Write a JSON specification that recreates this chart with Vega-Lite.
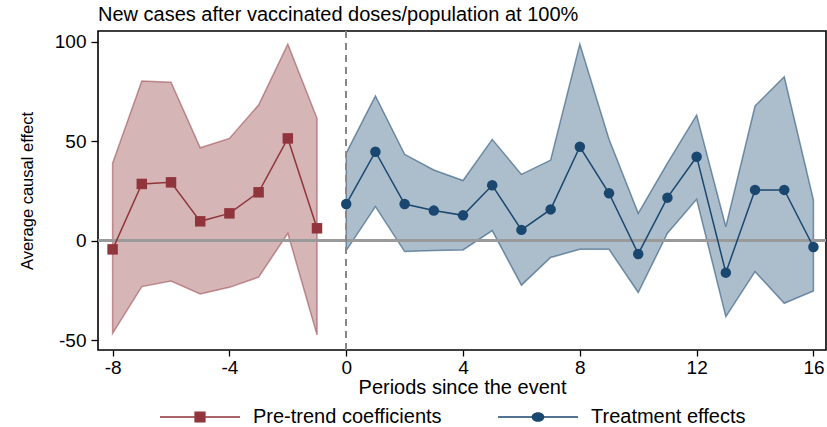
{
  "$schema": "https://vega.github.io/schema/vega-lite/v6.json",
  "width": 728,
  "height": 319,
  "autosize": {"type": "none"},
  "padding": {"left": 98, "top": 31, "right": 1, "bottom": 77},
  "background": "white",
  "config": {
    "font": "Liberation Sans",
    "view": {"stroke": "black", "strokeWidth": 1.6},
    "axis": {"grid": false, "domain": false, "tickColor": "black", "tickWidth": 1.3, "labelColor": "black", "titleColor": "black", "labelFont": "Liberation Sans", "titleFont": "Liberation Sans", "titleFontWeight": "normal"}
  },
  "title": {"text": "New cases after vaccinated doses/population at 100%", "anchor": "start", "frame": "group", "fontSize": 20, "fontWeight": "normal", "font": "Liberation Sans", "color": "black", "baseline": "bottom", "offset": 6, "dy": 21},
  "data": {"values": [
    {"t": -8, "coef": -4.4, "lo": -46.6, "hi": 38.9, "group": "Pre-trend coefficients"},
    {"t": -7, "coef": 28.5, "lo": -23.1, "hi": 80.2, "group": "Pre-trend coefficients"},
    {"t": -6, "coef": 29.3, "lo": -20.3, "hi": 79.6, "group": "Pre-trend coefficients"},
    {"t": -5, "coef": 9.7, "lo": -26.8, "hi": 46.7, "group": "Pre-trend coefficients"},
    {"t": -4, "coef": 13.7, "lo": -23.5, "hi": 51.4, "group": "Pre-trend coefficients"},
    {"t": -3, "coef": 24.3, "lo": -18.4, "hi": 68.2, "group": "Pre-trend coefficients"},
    {"t": -2, "coef": 51.4, "lo": 3.7, "hi": 98.8, "group": "Pre-trend coefficients"},
    {"t": -1, "coef": 6.2, "lo": -47.4, "hi": 61.5, "group": "Pre-trend coefficients"},
    {"t": 0, "coef": 18.4, "lo": -5.0, "hi": 44.0, "group": "Treatment effects"},
    {"t": 1, "coef": 44.7, "lo": 17.1, "hi": 72.7, "group": "Treatment effects"},
    {"t": 2, "coef": 18.4, "lo": -5.5, "hi": 43.4, "group": "Treatment effects"},
    {"t": 3, "coef": 15.1, "lo": -5.0, "hi": 35.5, "group": "Treatment effects"},
    {"t": 4, "coef": 12.7, "lo": -4.7, "hi": 30.2, "group": "Treatment effects"},
    {"t": 5, "coef": 27.8, "lo": 5.0, "hi": 50.9, "group": "Treatment effects"},
    {"t": 6, "coef": 5.4, "lo": -22.4, "hi": 33.3, "group": "Treatment effects"},
    {"t": 7, "coef": 15.7, "lo": -8.5, "hi": 40.5, "group": "Treatment effects"},
    {"t": 8, "coef": 47.2, "lo": -4.4, "hi": 98.8, "group": "Treatment effects"},
    {"t": 9, "coef": 23.8, "lo": -4.4, "hi": 51.0, "group": "Treatment effects"},
    {"t": 10, "coef": -6.7, "lo": -26.1, "hi": 13.7, "group": "Treatment effects"},
    {"t": 11, "coef": 21.6, "lo": 3.7, "hi": 39.0, "group": "Treatment effects"},
    {"t": 12, "coef": 42.2, "lo": 20.8, "hi": 63.1, "group": "Treatment effects"},
    {"t": 13, "coef": -16.1, "lo": -38.2, "hi": 7.0, "group": "Treatment effects"},
    {"t": 14, "coef": 25.5, "lo": -15.6, "hi": 67.7, "group": "Treatment effects"},
    {"t": 15, "coef": 25.5, "lo": -31.5, "hi": 82.4, "group": "Treatment effects"},
    {"t": 16, "coef": -3.2, "lo": -25.3, "hi": 20.4, "group": "Treatment effects"}
  ]},
  "encoding": {
    "x": {"field": "t", "type": "quantitative", "scale": {"domain": [-8.5, 16.43], "nice": false, "zero": false},
      "axis": {"values": [-8, -4, 0, 4, 8, 12, 16], "labelExpr": "toString(datum.value)", "title": "Periods since the event", "labelFontSize": 19, "titleFontSize": 20, "tickSize": 6, "labelPadding": 2, "titlePadding": 0}},
    "y": {"type": "quantitative", "scale": {"domain": [-55, 105.4], "nice": false, "zero": false},
      "axis": {"values": [-50, 0, 50, 100], "labelExpr": "toString(datum.value)", "title": "Average causal effect", "labelFontSize": 19, "titleFontSize": 16.5, "tickSize": 7, "labelPadding": 5, "titleX": -63, "titleBaseline": "bottom"}}
  },
  "layer": [
    {
      "transform": [{"filter": "datum.group === 'Pre-trend coefficients'"}],
      "mark": {"type": "area", "fill": "#90353b", "fillOpacity": 0.37, "stroke": "#90353b", "strokeOpacity": 0.5, "strokeWidth": 1.5},
      "encoding": {"y": {"field": "hi", "type": "quantitative"}, "y2": {"field": "lo"}}
    },
    {
      "transform": [{"filter": "datum.group === 'Treatment effects'"}],
      "mark": {"type": "area", "fill": "#1a476f", "fillOpacity": 0.36, "stroke": "#1a476f", "strokeOpacity": 0.55, "strokeWidth": 1.5},
      "encoding": {"y": {"field": "hi", "type": "quantitative"}, "y2": {"field": "lo"}}
    },
    {
      "mark": {"type": "rule", "color": "#999999", "strokeWidth": 2},
      "encoding": {"y": {"datum": 0}, "x": {"datum": -8.5}, "x2": {"datum": 16.43}}
    },
    {
      "mark": {"type": "rule", "color": "#888888", "strokeWidth": 1.5, "strokeDash": [7, 5]},
      "encoding": {"x": {"datum": 0}, "y": {"datum": -55}, "y2": {"datum": 105.4}}
    },
    {
      "transform": [{"filter": "datum.group === 'Pre-trend coefficients'"}],
      "mark": {"type": "line", "color": "#90353b", "strokeWidth": 1.5},
      "encoding": {"y": {"field": "coef", "type": "quantitative"}}
    },
    {
      "transform": [{"filter": "datum.group === 'Treatment effects'"}],
      "mark": {"type": "line", "color": "#1a476f", "strokeWidth": 1.5},
      "encoding": {"y": {"field": "coef", "type": "quantitative"}}
    },
    {
      "transform": [{"filter": "datum.group === 'Pre-trend coefficients'"}],
      "mark": {"type": "point", "shape": "square", "filled": true, "color": "#90353b", "opacity": 1, "size": 110},
      "encoding": {"y": {"field": "coef", "type": "quantitative"}}
    },
    {
      "transform": [{"filter": "datum.group === 'Treatment effects'"}],
      "mark": {"type": "point", "shape": "circle", "filled": true, "color": "#1a476f", "opacity": 1, "size": 110},
      "encoding": {"y": {"field": "coef", "type": "quantitative"}}
    },
    {
      "mark": {"type": "point", "filled": true, "opacity": 0},
      "encoding": {
        "y": {"field": "coef", "type": "quantitative"},
        "color": {"field": "group", "type": "nominal",
          "scale": {"domain": ["Pre-trend coefficients", "Treatment effects"], "range": ["#90353b", "#1a476f"]},
          "legend": {"orient": "none", "legendX": 62, "legendY": 346, "direction": "horizontal", "title": null, "symbolSize": 6400, "symbolOpacity": 1, "labelFontSize": 20, "labelFont": "Liberation Sans", "labelColor": "black", "labelOffset": 13, "labelLimit": 0, "columnPadding": 56, "symbolStrokeWidth": 0}},
        "shape": {"field": "group", "type": "nominal",
          "scale": {"domain": ["Pre-trend coefficients", "Treatment effects"], "range": ["M-1,-0.02H1V0.02H-1Z M-0.14,-0.14H0.14V0.14H-0.14Z", "M-1,-0.02H1V0.02H-1Z M0.16,0A0.16,0.12 0 1,1 -0.16,0A0.16,0.12 0 1,1 0.16,0Z"]},
          "legend": {"orient": "none", "legendX": 62, "legendY": 346, "direction": "horizontal", "title": null, "symbolSize": 6400, "symbolOpacity": 1, "labelFontSize": 20, "labelFont": "Liberation Sans", "labelColor": "black", "labelOffset": 13, "labelLimit": 0, "columnPadding": 56, "symbolStrokeWidth": 0}}
      }
    }
  ]
}
